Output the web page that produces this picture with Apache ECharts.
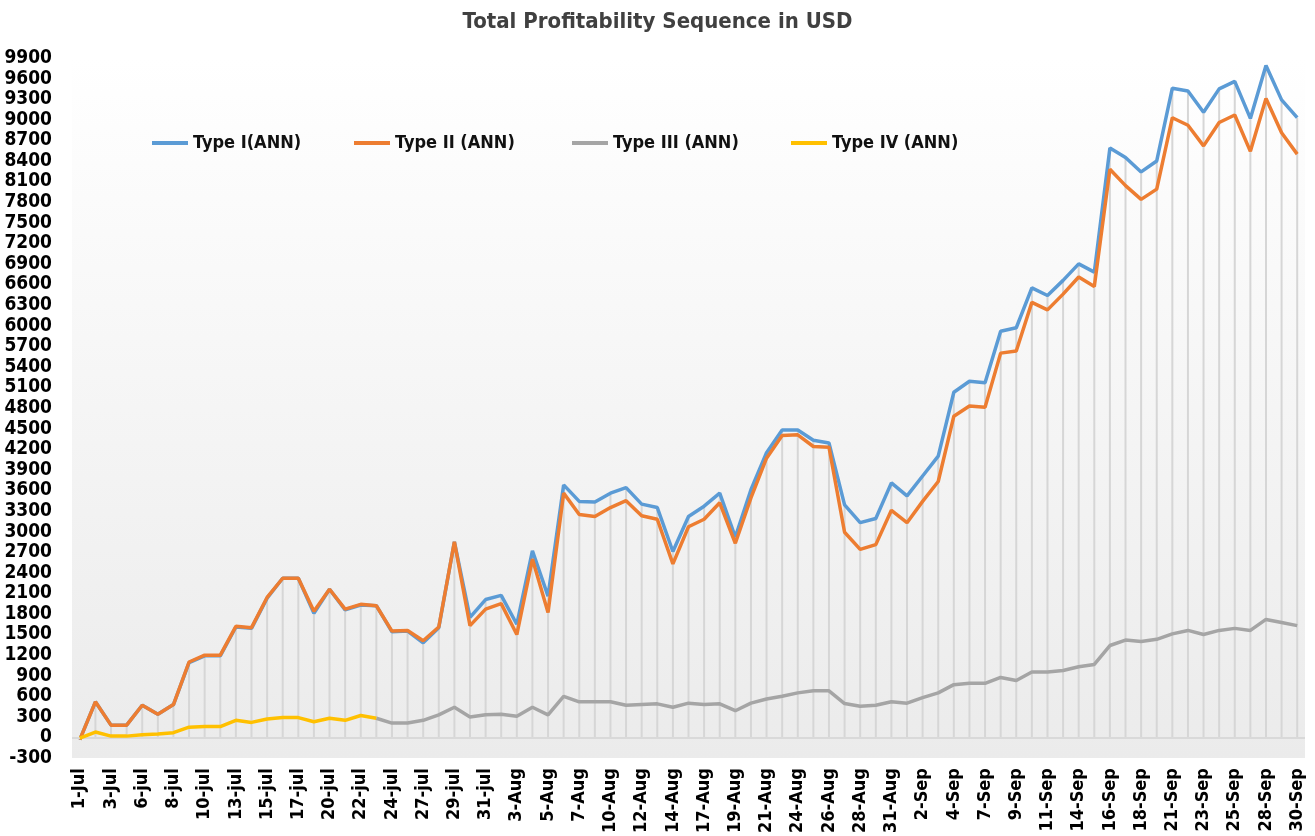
<!DOCTYPE html>
<html>
<head>
<meta charset="utf-8">
<title>Total Profitability Sequence in USD</title>
<script src="https://cdn.jsdelivr.net/npm/echarts@6/dist/echarts.min.js"></script>
<style>
  html, body { margin: 0; padding: 0; background: #fff; }
  #chart { width: 1315px; height: 836px; }
</style>
</head>
<body>
<div id="chart"></div>
<script>
var days = [
  '1-Jul', '2-Jul', '3-Jul', '5-jul', '6-jul', '7-jul', '8-jul', '9-jul', '10-jul', '12-jul',
  '13-jul', '14-jul', '15-jul', '16-jul', '17-jul', '19-jul', '20-jul', '21-jul', '22-jul', '23-jul',
  '24-jul', '26-jul', '27-jul', '28-jul', '29-jul', '30-jul', '31-jul', '2-Aug', '3-Aug', '4-Aug',
  '5-Aug', '6-Aug', '7-Aug', '9-Aug', '10-Aug', '11-Aug', '12-Aug', '13-Aug', '14-Aug', '16-Aug',
  '17-Aug', '18-Aug', '19-Aug', '20-Aug', '21-Aug', '23-Aug', '24-Aug', '25-Aug', '26-Aug', '27-Aug',
  '28-Aug', '30-Aug', '31-Aug', '1-Sep', '2-Sep', '3-Sep', '4-Sep', '6-Sep', '7-Sep', '8-Sep',
  '9-Sep', '10-Sep', '11-Sep', '13-Sep', '14-Sep', '15-Sep', '16-Sep', '17-Sep', '18-Sep', '20-Sep',
  '21-Sep', '22-Sep', '23-Sep', '24-Sep', '25-Sep', '27-Sep', '28-Sep', '29-Sep', '30-Sep'
];

var typeI = [
  -30, 520, 180, 180, 470, 340, 480, 1090, 1190, 1190,
  1610, 1590, 2030, 2320, 2320, 1810, 2160, 1860, 1930, 1920,
  1540, 1550, 1380, 1600, 2850, 1750, 2010, 2070, 1650, 2720,
  2060, 3680, 3440, 3430, 3560, 3640, 3400, 3350, 2710, 3220,
  3370, 3560, 2920, 3610, 4150, 4480, 4480, 4330, 4290, 3390,
  3130, 3190, 3710, 3520, 3810, 4100, 5030, 5190, 5170, 5920,
  5970, 6550, 6440, 6660, 6900, 6780, 8590, 8450, 8240, 8400,
  9460, 9420, 9110, 9450, 9560, 9020, 9790, 9290, 9030
];

var typeII = [
  -30, 520, 180, 180, 470, 340, 480, 1100, 1200, 1200,
  1620, 1600, 2040, 2320, 2320, 1840, 2160, 1870, 1940, 1920,
  1550, 1560, 1410, 1610, 2850, 1630, 1870, 1950, 1500, 2600,
  1820, 3560, 3250, 3220, 3350, 3450, 3230, 3180, 2530, 3070,
  3180, 3420, 2830, 3490, 4070, 4400, 4410, 4240, 4230, 2990,
  2740, 2810, 3310, 3130, 3440, 3730, 4680, 4830, 4810, 5600,
  5630, 6340, 6230, 6460, 6710, 6570, 8280, 8040, 7840, 7990,
  9030, 8920, 8620, 8960, 9070, 8540, 9310, 8810, 8500
];

var typeIII = [
  null, null, null, null, null, null, null, null, null, null,
  null, null, null, null, null, null, null, null, null, 280,
  210, 210, 250, 330, 440, 300, 330, 340, 310, 440,
  330, 600, 520, 520, 520, 470, 480, 490, 440, 500,
  480, 490, 390, 500, 560, 600, 650, 680, 680, 495,
  455, 470, 520, 500, 580, 650, 770, 790, 790, 875,
  830, 955, 955, 975, 1030, 1065, 1340, 1420, 1400, 1430,
  1510, 1560, 1500, 1560, 1590, 1560, 1720, 1675, 1630
];

var typeIV = [
  -10, 80, 20, 20, 40, 50, 70, 150, 160, 160,
  250, 220, 270, 290, 290, 230, 280, 250, 320, 280
];

var seriesNames = ['Type I(ANN)', 'Type II (ANN)', 'Type III (ANN)', 'Type IV (ANN)'];
var seriesColors = ['#5B9BD5', '#ED7D31', '#A5A5A5', '#FFC000'];
var legendLeft = [152, 354, 572, 791];

// drop lines: from the highest curve down to zero
var dropTop = typeI.map(function (v, i) { return Math.max(v, typeII[i]); });

var font = '"DejaVu Sans Condensed", "DejaVu Sans", sans-serif';

var chart = echarts.init(document.getElementById('chart'));

function lineSeries(name, data, color, z) {
  return {
    name: name,
    type: 'line',
    data: data,
    symbol: 'none',
    z: z,
    lineStyle: { color: color, width: 3.5 },
    itemStyle: { color: color }
  };
}

chart.setOption({
  animation: false,
  title: {
    text: 'Total Profitability Sequence in USD',
    left: 'center',
    top: 6,
    textStyle: { fontFamily: font, fontSize: 22, fontWeight: 'bold', color: '#404040' }
  },
  legend: seriesNames.map(function (n, i) {
    return {
      data: [n],
      left: legendLeft[i],
      top: 134,
      padding: 0,
      icon: 'rect',
      itemWidth: 36,
      itemHeight: 4,
      textStyle: { fontFamily: font, fontSize: 18, fontWeight: 'bold', color: '#111' }
    };
  }),
  grid: {
    left: 72,
    right: 10,
    top: 58,
    bottom: 74,
    show: true,
    borderWidth: 0,
    backgroundColor: {
      type: 'linear', x: 0, y: 0, x2: 0, y2: 1,
      colorStops: [{ offset: 0, color: '#ffffff' }, { offset: 1, color: '#ebebeb' }]
    }
  },
  xAxis: {
    type: 'category',
    data: days,
    boundaryGap: true,
    axisLine: { show: false, onZero: false },
    axisTick: { show: false },
    axisLabel: {
      interval: 1,
      rotate: 90,
      margin: 10,
      fontFamily: font,
      fontSize: 18,
      fontWeight: 'bold',
      color: '#000'
    }
  },
  yAxis: {
    type: 'value',
    min: -300,
    max: 9900,
    interval: 300,
    axisLine: { show: false },
    axisTick: { show: false },
    splitLine: { show: false },
    axisLabel: {
      margin: 20,
      formatter: function (v) { return String(v); },
      fontFamily: font,
      fontSize: 19,
      fontWeight: 'bold',
      color: '#000'
    }
  },
  series: [
    {
      name: 'drop',
      type: 'bar',
      data: dropTop,
      barWidth: 2,
      silent: true,
      z: 1,
      itemStyle: { color: '#d6d6d6' },
      markLine: {
        silent: true,
        symbol: 'none',
        label: { show: false },
        lineStyle: { color: '#d9d9d9', width: 2, type: 'solid' },
        data: [{ yAxis: 0 }]
      }
    },
    lineSeries(seriesNames[0], typeI, seriesColors[0], 3),
    lineSeries(seriesNames[1], typeII, seriesColors[1], 4),
    lineSeries(seriesNames[2], typeIII, seriesColors[2], 5),
    lineSeries(seriesNames[3], typeIV, seriesColors[3], 6)
  ]
});
</script>
</body>
</html>
